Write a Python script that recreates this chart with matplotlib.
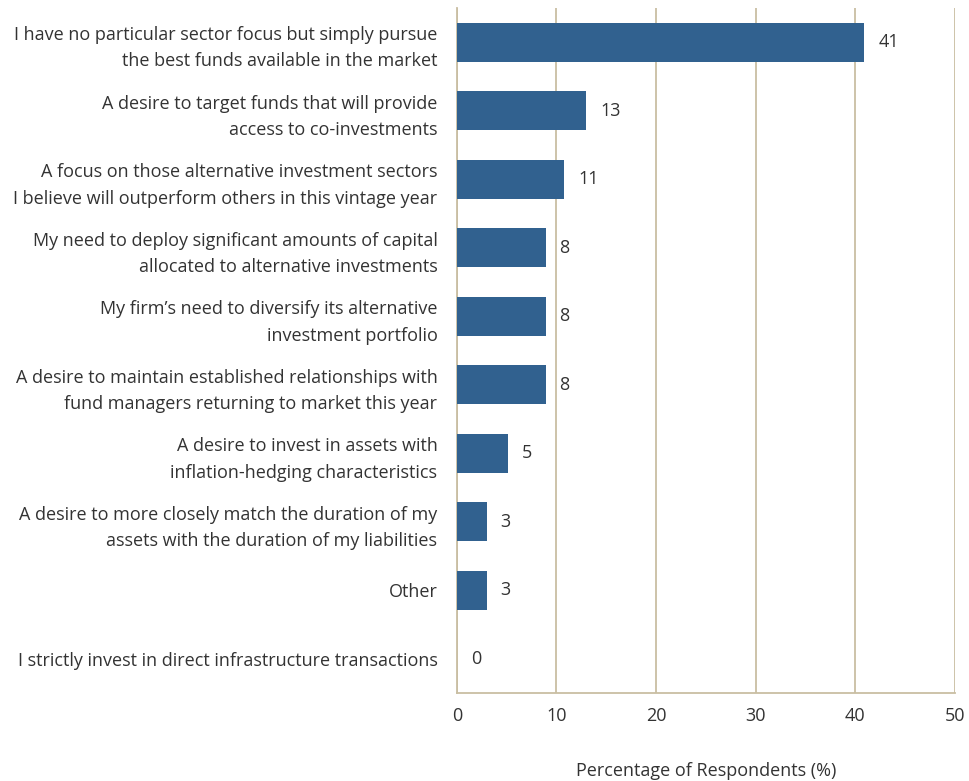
import matplotlib.pyplot as plt

categories = [
    "I have no particular sector focus but simply pursue\nthe best funds available in the market",
    "A desire to target funds that will provide\naccess to co-investments",
    "A focus on those alternative investment sectors\nI believe will outperform others in this vintage year",
    "My need to deploy significant amounts of capital\nallocated to alternative investments",
    "My firm\u2019s need to diversify its alternative\ninvestment portfolio",
    "A desire to maintain established relationships with\nfund managers returning to market this year",
    "A desire to invest in assets with\ninflation-hedging characteristics",
    "A desire to more closely match the duration of my\nassets with the duration of my liabilities",
    "Other",
    "I strictly invest in direct infrastructure transactions",
]
values = [40.9, 13.0, 10.8, 8.9, 8.9, 8.9, 5.1, 3.0, 3.0, 0.0]
value_labels = ["41", "13", "11", "8", "8", "8", "5", "3", "3", "0"]

plt.rcParams['font.family'] = ['Open Sans', 'DejaVu Sans']
txt = '#333333'
grid_c = '#c9bea3'
bar_c = '#31618f'

fig = plt.figure(figsize=(9.7, 7.81), dpi=100)
ax = fig.add_axes([0.471, 0.1127, 0.5135, 0.8773])

ypos = range(len(categories))
ax.barh(ypos, values, height=0.57, color=bar_c, zorder=3)
for y, v, lab in zip(ypos, values, value_labels):
    ax.text(v + 1.4, y, lab, va='center', ha='left', fontsize=13, color=txt)

ax.set_xlim(0, 50)
ax.set_ylim(9.5, -0.5)
ax.set_yticks(list(ypos))
ax.set_yticklabels(categories, fontsize=13, color=txt, linespacing=1.6)
ax.set_xticks([0, 10, 20, 30, 40, 50])
ax.tick_params(axis='x', labelsize=13, labelcolor=txt, length=0, pad=10)
ax.tick_params(axis='y', length=0, pad=14)
ax.xaxis.grid(True, color=grid_c, linewidth=1.3, zorder=0)
ax.set_xlabel('Percentage of Respondents (%)', fontsize=13, color=txt, labelpad=27)

for s in ['top', 'right']:
    ax.spines[s].set_visible(False)
for s in ['left', 'bottom']:
    ax.spines[s].set_color(grid_c)
    ax.spines[s].set_linewidth(1.3)

fig.savefig('out.png', dpi=100)
